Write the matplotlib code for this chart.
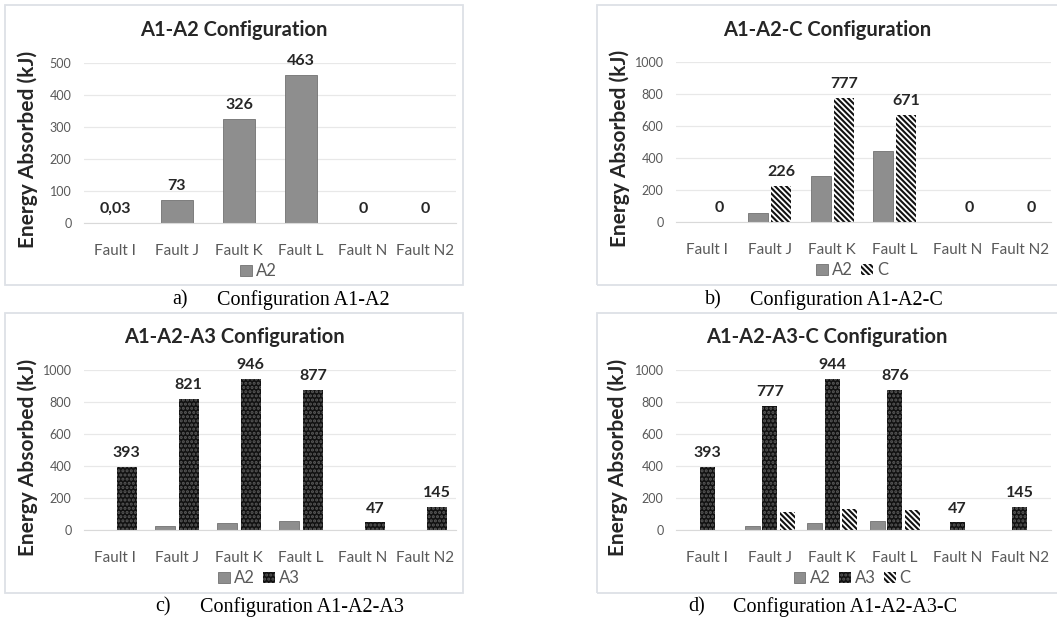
import matplotlib
matplotlib.use("Agg")
import matplotlib.pyplot as plt
import numpy as np
from matplotlib.patches import Rectangle

faults = ["Fault I", "Fault J", "Fault K", "Fault L", "Fault N", "Fault N2"]

# a) A1-A2
a_A2 = [0.03, 73, 326, 463, 0, 0]
a_lbl = ["0,03", "73", "326", "463", "0", "0"]

# b) A1-A2-C
b_A2 = [0, 58, 289, 446, 0, 0]
b_C = [0, 226, 777, 671, 0, 0]

# c) A1-A2-A3
c_A2 = [0, 22, 42, 58, 0, 0]
c_A3 = [393, 821, 946, 877, 47, 145]

# d) A1-A2-A3-C
d_A2 = [0, 22, 42, 58, 0, 0]
d_A3 = [393, 777, 944, 876, 47, 145]
d_C = [0, 110, 130, 122, 0, 0]

W, H = 1057, 622
plt.rcParams['font.family'] = ['Lato', 'DejaVu Sans']
plt.rcParams['hatch.linewidth'] = 1.5

fig = plt.figure(figsize=(W / 100, H / 100), dpi=100)
fig.patch.set_facecolor("white")

def px_axes(x0, x1, ytop, ybot):
    return fig.add_axes([x0 / W, 1 - ybot / H, (x1 - x0) / W, (ybot - ytop) / H])

def box(x0, y0, x1, y1):
    fig.add_artist(Rectangle((x0 / W, 1 - y1 / H), (x1 - x0) / W, (y1 - y0) / H,
                             transform=fig.transFigure, fill=False,
                             edgecolor="#dde1e6", lw=1.3))

A2_style = dict(color="#8e8e8e", edgecolor="#727272", linewidth=0.6, label="A2")
A3_style = dict(color="#111111", edgecolor="#5a5a5a", hatch="....", linewidth=0, label="A3")
C_style = dict(color="white", edgecolor="#111111", hatch="\\" * 6, linewidth=0, label="C")

def setup(ax, ymax, step, ylab_x, ylab_y):
    ax.set_xlim(-0.5, len(faults) - 0.5)
    ax.set_ylim(0, ymax)
    ax.set_yticks(np.arange(0, ymax + 1, step))
    ax.set_xticks(np.arange(len(faults)))
    ax.set_xticklabels(faults, fontsize=11, color="#595959")
    ax.tick_params(axis="y", labelsize=9, labelcolor="#595959", length=0, pad=9)
    ax.tick_params(axis="x", length=0, pad=15)
    ax.grid(axis="y", color="#e8e8e8", lw=0.9)
    ax.set_axisbelow(True)
    for s in ["top", "right", "left"]:
        ax.spines[s].set_visible(False)
    ax.spines["bottom"].set_color("#d9d9d9")
    ax.set_ylabel("Energy Absorbed (kJ)", fontsize=15, fontweight="bold", color="#262626")
    ax.yaxis.label.set_va("center")
    ax.yaxis.set_label_coords(ylab_x, ylab_y)

def labels(ax, xs, vals, texts=None):
    for i, (x, v) in enumerate(zip(xs, vals)):
        t = texts[i] if texts else str(v)
        ax.annotate(t, (x, v), xytext=(0, 5), textcoords="offset points",
                    ha="center", va="bottom", fontsize=11.5, fontweight="bold",
                    color="#262626", annotation_clip=False)

def legend(ax, n):
    ax.legend(loc="upper center", bbox_to_anchor=(0.47, -0.2), ncol=n, frameon=False,
              fontsize=12, labelcolor="#595959", handlelength=0.7, handleheight=0.7,
              handletextpad=0.25, columnspacing=0.5, borderpad=0)

x = np.arange(len(faults))

# panel boxes
box(5, 5, 463, 285)
box(597, 5, 1062, 285)
box(5, 313, 463, 593)
box(597, 313, 1062, 593)

# a
ax = px_axes(84, 456, 63, 223)
setup(ax, 500, 100, (28 - 84) / 372, 0.4625)
ax.bar(x, a_A2, 0.52, **A2_style)
labels(ax, x, a_A2, a_lbl)
legend(ax, 1)
fig.text(234 / W, 1 - 30 / H, "A1-A2 Configuration", ha="center", va="center",
         fontsize=14.5, fontweight="bold", color="#262626")

# b
ax = px_axes(676, 1051, 62, 222)
setup(ax, 1000, 200, (620 - 676) / 375, 0.4625)
ax.bar(x - 0.185, b_A2, 0.32, **A2_style)
ax.bar(x + 0.185, b_C, 0.32, **C_style)
labels(ax, x + 0.185, b_C)
legend(ax, 2)
fig.text(827 / W, 1 - 30 / H, "A1-A2-C Configuration", ha="center", va="center",
         fontsize=14.5, fontweight="bold", color="#262626")

# c
ax = px_axes(84, 456, 370, 530)
setup(ax, 1000, 200, (28 - 84) / 372, 0.456)
ax.bar(x - 0.19, c_A2, 0.32, **A2_style)
ax.bar(x + 0.19, c_A3, 0.32, **A3_style)
labels(ax, x + 0.19, c_A3)
legend(ax, 2)
fig.text(234 / W, 1 - 337 / H, "A1-A2-A3 Configuration", ha="center", va="center",
         fontsize=14.5, fontweight="bold", color="#262626")

# d
ax = px_axes(676, 1051, 370, 530)
setup(ax, 1000, 200, (618 - 676) / 375, 0.456)
ax.bar(x - 0.28, d_A2, 0.24, **A2_style)
ax.bar(x, d_A3, 0.24, **A3_style)
ax.bar(x + 0.28, d_C, 0.24, **C_style)
labels(ax, x, d_A3)
legend(ax, 3)
fig.text(827 / W, 1 - 337 / H, "A1-A2-A3-C Configuration", ha="center", va="center",
         fontsize=14.5, fontweight="bold", color="#262626")

# captions
cap = dict(fontsize=14.5, family="Liberation Serif", va="center", color="black")
fig.text(172 / W, 1 - 300 / H, "a)", **cap)
fig.text(217 / W, 1 - 300 / H, "Configuration A1-A2", **cap)
fig.text(705 / W, 1 - 300 / H, "b)", **cap)
fig.text(750 / W, 1 - 300 / H, "Configuration A1-A2-C", **cap)
fig.text(155 / W, 1 - 607 / H, "c)", **cap)
fig.text(200 / W, 1 - 607 / H, "Configuration A1-A2-A3", **cap)
fig.text(688 / W, 1 - 607 / H, "d)", **cap)
fig.text(733 / W, 1 - 607 / H, "Configuration A1-A2-A3-C", **cap)

fig.savefig("out.png", dpi=100, facecolor="white")
